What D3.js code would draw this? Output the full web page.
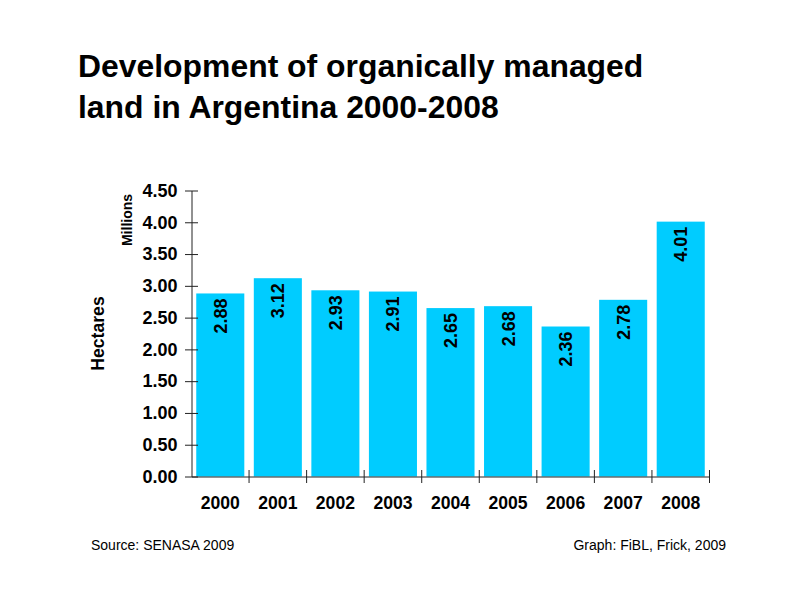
<!DOCTYPE html>
<html>
<head>
<meta charset="utf-8">
<script src="https://cdn.jsdelivr.net/npm/d3@7"></script>
<style>
  body { margin: 0; background: #fff; }
  text { font-family: "Liberation Sans", Arial, sans-serif; fill: #000; }
</style>
</head>
<body>
<svg id="chart" width="792" height="612"></svg>
<script>
const years = ['2000', '2001', '2002', '2003', '2004', '2005', '2006', '2007', '2008']
const hectares = [2.88, 3.12, 2.93, 2.91, 2.65, 2.68, 2.36, 2.78, 4.01]
const yTicks = [0, 0.5, 1, 1.5, 2, 2.5, 3, 3.5, 4, 4.5]
const titleLines = ['Development of organically managed', 'land in Argentina 2000-2008']

const BAR_COLOR = '#00ccff'
const AXIS_COLOR = '#222'

const svg = d3.select('#chart')

const x = d3.scaleBand().domain(years).range([191.5, 709.5]).paddingInner(0.165).paddingOuter(0.0825)
const y = d3.scaleLinear().domain([0, 4.5]).range([476.5, 190.5])

svg.append('g')
  .selectAll('text')
  .data(titleLines)
  .join('text')
  .attr('x', 78)
  .attr('y', (d, i) => 77 + i * 41)
  .style('font-size', '31.9px')
  .style('font-weight', 'bold')
  .text(d => d)

// bars
svg.append('g')
  .selectAll('rect')
  .data(hectares)
  .join('rect')
  .attr('x', (d, i) => x(years[i]))
  .attr('y', d => y(d))
  .attr('width', x.bandwidth())
  .attr('height', d => y(0) - y(d))
  .attr('fill', BAR_COLOR)

// value labels sit rotated just under the bar top
svg.append('g')
  .selectAll('text')
  .data(hectares)
  .join('text')
  .attr('transform', (d, i) => `translate(${x(years[i]) + x.bandwidth() / 2 + 6.5},${y(d) + 5}) rotate(-90)`)
  .attr('text-anchor', 'end')
  .style('font-size', '18px')
  .style('font-weight', 'bold')
  .text(d => d.toFixed(2))

// y axis, ticks cross the line
const yAxis = svg.append('g').attr('transform', 'translate(191.5,0)')
  .call(d3.axisLeft(y).tickValues(yTicks).tickSize(0).tickPadding(14).tickFormat(d3.format('.2f')))
yAxis.select('.domain').attr('stroke', AXIS_COLOR).attr('stroke-width', 1)
yAxis.selectAll('.tick line').attr('x1', -6.5).attr('x2', 6.5).attr('stroke', AXIS_COLOR)
yAxis.selectAll('.tick text').style('font-size', '18px').style('font-weight', 'bold')

// x axis, ticks fall between the bars
const xAxis = svg.append('g').attr('transform', 'translate(0,476.5)')
  .call(d3.axisBottom(x).tickSize(0).tickPadding(20))
xAxis.select('.domain').attr('stroke', AXIS_COLOR).attr('stroke-width', 1)
xAxis.selectAll('.tick text').style('font-size', '17.6px').style('font-weight', 'bold')
svg.append('g').attr('transform', 'translate(0,476.5)')
  .selectAll('line')
  .data(years)
  .join('line')
  .attr('x1', d => x(d) + x.bandwidth() / 2 + x.step() / 2)
  .attr('x2', d => x(d) + x.bandwidth() / 2 + x.step() / 2)
  .attr('y1', -6.5)
  .attr('y2', 6.5)
  .attr('stroke', AXIS_COLOR)

svg.append('text')
  .attr('transform', 'translate(104,333.5) rotate(-90)')
  .attr('text-anchor', 'middle')
  .style('font-size', '17.6px')
  .style('font-weight', 'bold')
  .text('Hectares')

svg.append('text')
  .attr('transform', 'translate(132,220) rotate(-90)')
  .attr('text-anchor', 'middle')
  .style('font-size', '14px')
  .style('font-weight', 'bold')
  .text('Millions')

svg.append('text')
  .attr('x', 91)
  .attr('y', 550)
  .style('font-size', '14px')
  .text('Source: SENASA 2009')

svg.append('text')
  .attr('x', 726)
  .attr('y', 550)
  .attr('text-anchor', 'end')
  .style('font-size', '14px')
  .text('Graph: FiBL, Frick, 2009')
</script>
</body>
</html>
